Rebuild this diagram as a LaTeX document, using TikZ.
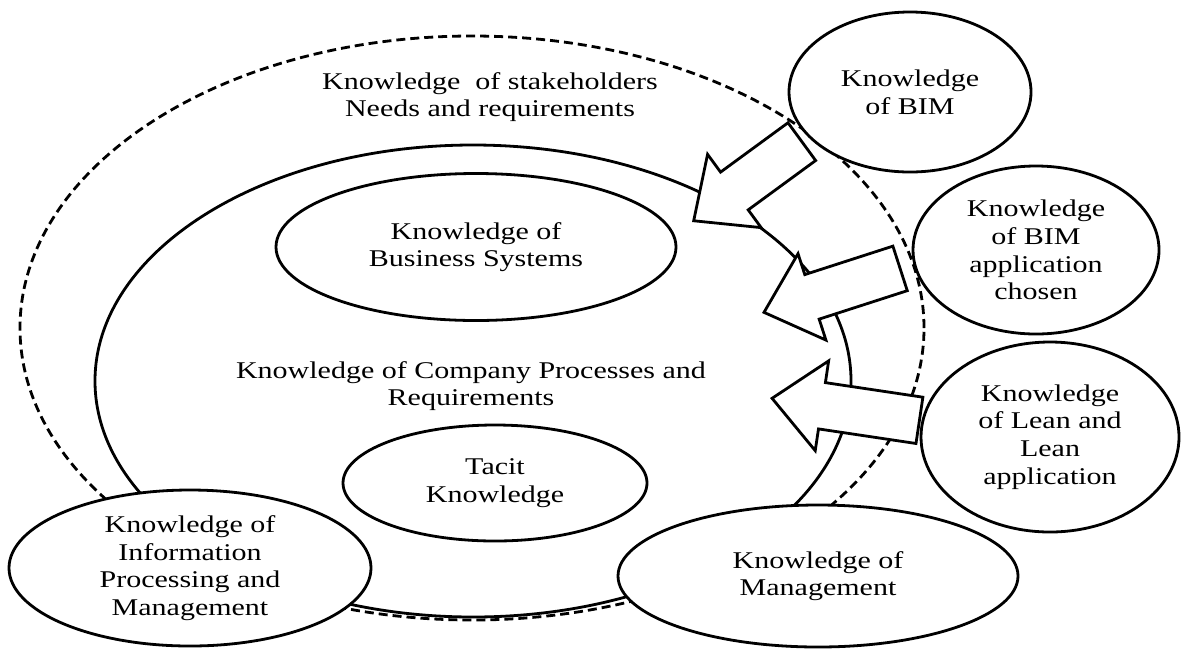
\documentclass[tikz,border=0pt]{standalone}
\usepackage{fontspec}
\setmainfont{Liberation Serif}[FakeStretch=1.25]
\usetikzlibrary{shapes.geometric, shapes.arrows}

\begin{document}
\begin{tikzpicture}[x=0.5pt, y=-0.5pt,
    font=\fontsize{12}{13.85}\selectfont,
    every node/.style={align=center},
    knowbubble/.style={ellipse, draw, line width=1.4pt, fill=white, inner sep=0pt},
    blockarrow/.style={single arrow, draw, line width=1.4pt, fill=white,
        inner xsep=0pt, inner ysep=11pt, single arrow head extend=11pt,
        single arrow tip angle=84, anchor=tip}]
\useasboundingbox (0,0) rectangle (1181,649);
%
% stakeholder ring and company ring
\draw[line width=1.4pt, dash pattern=on 4.5pt off 2.5pt] (472,328) ellipse [x radius=226pt, y radius=146pt];
\draw[line width=1.4pt] (473,381) ellipse [x radius=189pt, y radius=118pt];

\node (stake) at (490,97) {Knowledge\ \ of stakeholders\\Needs and requirements};
\node (company) at (471,386) {Knowledge of Company Processes and\\Requirements};

\node[knowbubble, minimum width=200pt, minimum height=73.5pt] (bussys) at (476,247) {Knowledge of\\Business Systems};
\node[knowbubble, minimum width=152pt, minimum height=58pt] (tacit) at (495,483) {Tacit\\Knowledge};
%
% outside knowledge
\node[knowbubble, minimum width=181pt, minimum height=78pt] (info) at (190,568) {Knowledge of\\Information\\Processing and\\Management};
\node[knowbubble, minimum width=200pt, minimum height=71pt] (manage) at (818,576) {Knowledge of\\Management};
\node[knowbubble, minimum width=121pt, minimum height=80pt] (bim) at (910,92) {Knowledge\\of BIM};
\node[knowbubble, minimum width=123pt, minimum height=84pt] (bimapp) at (1036,250) {Knowledge\\of BIM\\application\\chosen};
\node[knowbubble, minimum width=129pt, minimum height=95pt] (lean) at (1050,437) {Knowledge\\of Lean and\\Lean\\application};
%
% arrows into the company ring
\node[blockarrow, rotate=216.2, minimum height=67pt] (arrowbim) at (692,222) {};
\node[blockarrow, rotate=197.9, minimum height=71.5pt] (arrowapp) at (762,313) {};
\node[blockarrow, rotate=171.5, minimum height=74.5pt] (arrowlean) at (770,398) {};
\end{tikzpicture}
\end{document}
